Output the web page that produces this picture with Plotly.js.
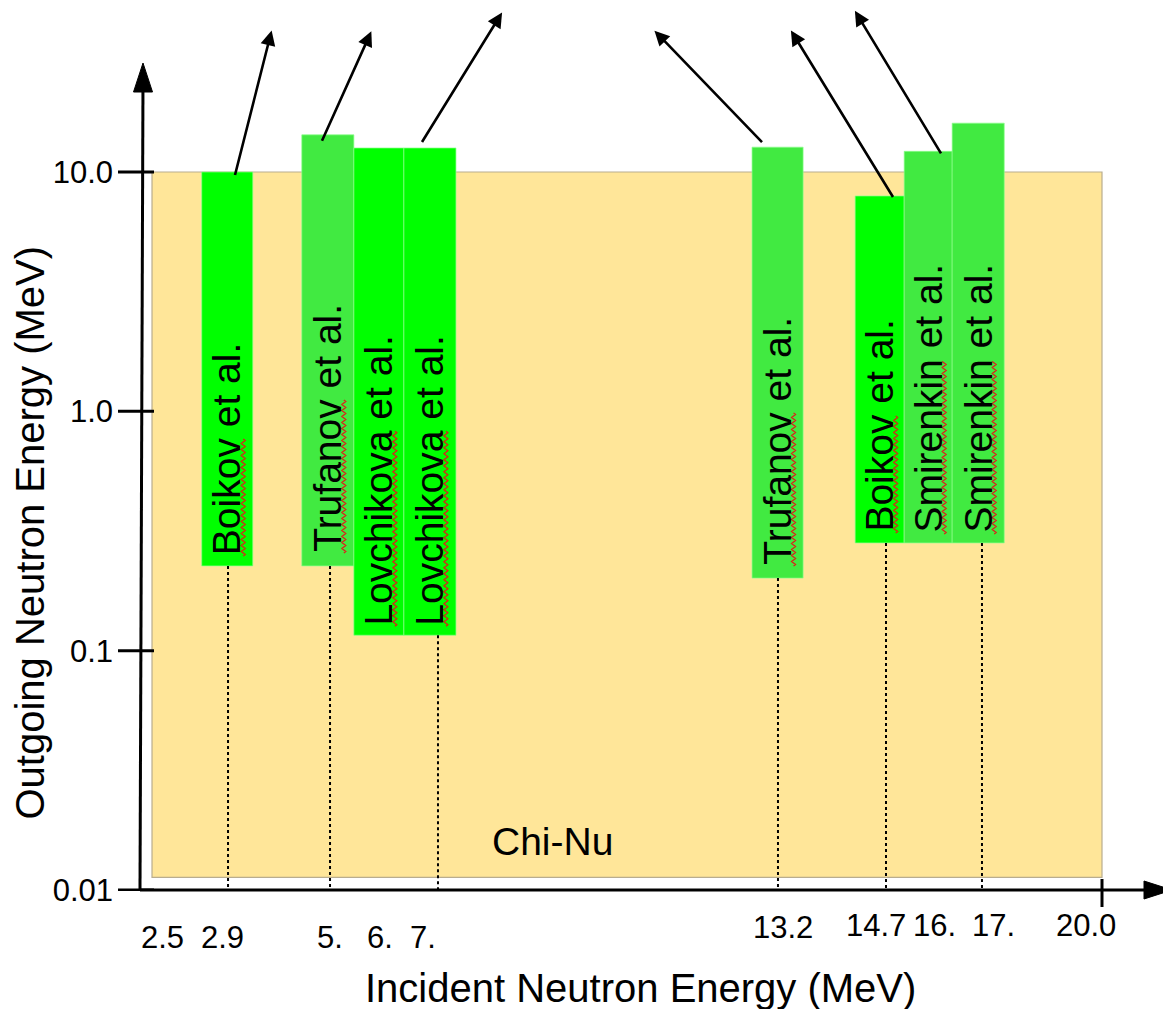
<!DOCTYPE html>
<html>
<head>
<meta charset="utf-8">
<script src="https://cdn.plot.ly/plotly-3.0.1.min.js"></script>
<style>html,body{margin:0;padding:0;background:#fff;} #chart{width:1163px;height:1009px;}</style>
</head>
<body>
<div id="chart"></div>
<script>
// ---------------- data ----------------
const incidentTickLabels = ['2.5', '2.9', '5.', '6.', '7.', '13.2', '14.7', '16.', '17.', '20.0'];
const outgoingTickValues = [0.01, 0.1, 1, 10];
const outgoingTickLabels = ['0.01', '0.1', '1.0', '10.0'];

const barAuthors  = ['Boikov', 'Trufanov', 'Lovchikova', 'Lovchikova', 'Trufanov', 'Boikov', 'Smirenkin', 'Smirenkin'];
const barIncident = ['2.9', '5.', '6.', '7.', '13.2', '14.7', '16.', '17.'];
const barOutLow   = [0.226, 0.226, 0.116, 0.116, 0.201, 0.282, 0.282, 0.282];
const barOutHigh  = [10.0, 14.3, 12.6, 12.6, 12.7, 7.94, 12.2, 16.0];

const chiNuName    = 'Chi-Nu';
const chiNuOutLow  = 0.0113;
const chiNuOutHigh = 10.0;

const xTitle = 'Incident Neutron Energy (MeV)';
const yTitle = 'Outgoing Neutron Energy (MeV)';

// ---------------- schematic layout (positions on the drawn, non-linear axis) ----------------
const tickLabelPos  = [0.41, 1.57, 3.69, 4.66, 5.50, 12.55, 14.38, 15.53, 16.67, 18.49];
const tickLabelDrop = [46, 46, 46, 46, 46, 36.5, 34.5, 34.5, 34.5, 34.5];
const barPos   = [1.67, 3.64, 4.64, 5.64, 12.45, 14.45, 15.40, 16.38];
const barWidth = [1.00, 1.02, 0.98, 1.02, 1.00, 0.96, 0.94, 1.02];
const barColor = ['#00ff00', '#41ea41', '#00ff00', '#00ff00', '#41ea41', '#00ff00', '#41ea41', '#41ea41'];
const labelPad = [9, 12, 8, 8, 11, 9, 8, 8];
const dropPos  = [1.685, 3.683, null, 5.798, 12.458, 14.574, null, 16.454];
const chiNuLeft = 0.196, chiNuRight = 18.805;          // right edge = 20.0 tick
const arrowBar   = [0, 1, 3, 4, 5, 6];
const arrowTailX = [1.822, 3.526, 5.485, 12.145, 14.711, 15.651];
const arrowTailShift = [-3, -6, 6, 5, -1, -2];
const arrowHeadDx = [37, 50, 81, -109, -103, -87];
const arrowHeadDy = [-146, -111, -131, -113, -168, -144];

const FONT = 'Liberation Sans, Arial, Helvetica, sans-serif';
const LABEL_SIZE = 39;
const ML = 142, PW = 1021, PH = 891;
const px = v => (v - ML) / PW;     // decoration helpers (figure px -> paper)
const py = v => (PH - v) / PH;

// approximate advance widths (em) for the spell-check squiggle under surnames
const ADV = {B:.667,o:.556,i:.222,k:.5,v:.5,T:.611,r:.333,u:.556,f:.278,a:.556,n:.556,L:.556,c:.5,h:.556,S:.667,m:.833,e:.556};
const wordWidth = w => w.split('').reduce((s, c) => s + (ADV[c] || .556), 0) * LABEL_SIZE;

// ---------------- traces ----------------
const chiNuTrace = {
  type: 'bar', x: [(chiNuLeft + chiNuRight) / 2], width: [chiNuRight - chiNuLeft],
  base: [chiNuOutLow], y: [chiNuOutHigh - chiNuOutLow],
  marker: {color: '#ffe699', line: {color: '#b9ad8f', width: 1.2}},
  hoverinfo: 'skip', name: chiNuName
};
const barTrace = {
  type: 'bar', x: barPos, width: barWidth,
  base: barOutLow, y: barOutHigh.map((h, i) => h - barOutLow[i]),
  marker: {color: barColor, line: {color: 'rgba(140,255,140,0.7)', width: 1}},
  text: barAuthors.map((a, i) => a + ' ' + barIncident[i]), textposition: 'none',
  hoverinfo: 'text', name: 'experiments'
};
const dx = [], dy = [];
dropPos.forEach((p, i) => { if (p !== null) { dx.push(p, p, null); dy.push(barOutLow[i], outgoingTickValues[0], null); } });
const dropTrace = {
  type: 'scatter', mode: 'lines', x: dx, y: dy,
  line: {color: '#000', width: 2, dash: 'dot'}, hoverinfo: 'skip', connectgaps: false
};

// ---------------- shapes (axes drawn as arrows) ----------------
const shapes = [];
shapes.push({type: 'line', xref: 'paper', yref: 'paper', x0: px(140), y0: py(890), x1: px(143), y1: py(80), line: {color: '#000', width: 3}});
shapes.push({type: 'path', xref: 'paper', yref: 'paper',
  path: `M${px(143)},${py(63)} L${px(133.5)},${py(92)} L${px(152.5)},${py(92)} Z`,
  fillcolor: '#000', line: {color: '#000', width: 1}});
shapes.push({type: 'line', xref: 'paper', yref: 'paper', x0: px(140), y0: py(890), x1: px(1150), y1: py(890), line: {color: '#000', width: 3}});
shapes.push({type: 'path', xref: 'paper', yref: 'paper',
  path: `M${px(1172)},${py(890)} L${px(1144)},${py(881)} L${px(1144)},${py(899)} Z`,
  fillcolor: '#000', line: {color: '#000', width: 1}});
outgoingTickValues.forEach(v => shapes.push({type: 'line', xref: 'paper', xsizemode: 'pixel', xanchor: 0, x0: -24, x1: 12,
  yref: 'y', y0: v, y1: v, line: {color: '#000', width: 3}}));
shapes.push({type: 'line', xref: 'x', x0: chiNuRight, x1: chiNuRight, yref: 'paper', y0: py(907), y1: py(879), line: {color: '#000', width: 3}});

// red squiggles (spell-check marks) under each surname, following the rotated baseline
function squiggle(xOff, start, len) {
  let p = `M${xOff},${start}`;
  const offs = [2, 0, -2, 0];
  let k = 0;
  for (let t = start + 1.5; t <= start + len; t += 1.5) { p += ` L${xOff + offs[k % 4]},${t.toFixed(1)}`; k++; }
  return p;
}
barAuthors.forEach((a, i) => shapes.push({
  type: 'path', xref: 'x', yref: 'y', xsizemode: 'pixel', ysizemode: 'pixel',
  xanchor: barPos[i], yanchor: barOutLow[i],
  path: squiggle(16, labelPad[i] + 1, wordWidth(a)),
  line: {color: '#e01a1a', width: 1.2}, fillcolor: 'rgba(0,0,0,0)'
}));

// ---------------- annotations ----------------
const annotations = [];
barAuthors.forEach((a, i) => annotations.push({
  xref: 'x', yref: 'y', x: barPos[i], y: Math.log10(barOutLow[i]),
  text: a + ' et al.', textangle: -90, showarrow: false,
  xanchor: 'center', yanchor: 'bottom', yshift: labelPad[i],
  font: {family: FONT, size: LABEL_SIZE, color: '#000'}
}));
arrowBar.forEach((b, k) => annotations.push({
  xref: 'x', yref: 'y', x: arrowTailX[k], y: Math.log10(barOutHigh[b]), yshift: arrowTailShift[k],
  text: '', showarrow: true, arrowside: 'start', ax: arrowHeadDx[k], ay: arrowHeadDy[k],
  startarrowhead: 2, startarrowsize: 1.15, arrowhead: 2, arrowsize: 1.15,
  arrowwidth: 2.6, arrowcolor: '#000', standoff: 0, startstandoff: 0
}));
incidentTickLabels.forEach((t, i) => annotations.push({
  xref: 'x', yref: 'paper', x: tickLabelPos[i], y: 0, yshift: -tickLabelDrop[i],
  text: t, showarrow: false, xanchor: 'center', yanchor: 'middle',
  font: {family: FONT, size: 31, color: '#000'}
}));
annotations.push({xref: 'paper', yref: 'paper', x: px(552.5), y: py(841.5), text: chiNuName, showarrow: false,
  xanchor: 'center', yanchor: 'middle', font: {family: FONT, size: 39, color: '#000'}});
annotations.push({xref: 'paper', yref: 'paper', x: px(640), y: py(988), text: xTitle, showarrow: false,
  xanchor: 'center', yanchor: 'middle', font: {family: FONT, size: 40, color: '#000'}});
annotations.push({xref: 'paper', yref: 'paper', x: px(29), y: py(532.5), text: yTitle, showarrow: false, textangle: -90,
  xanchor: 'center', yanchor: 'middle', font: {family: FONT, size: 40, color: '#000'}});

const layout = {
  width: 1163, height: 1009,
  margin: {l: ML, r: 1163 - ML - PW, t: 0, b: 1009 - PH, pad: 0},
  paper_bgcolor: '#ffffff', plot_bgcolor: 'rgba(0,0,0,0)',
  showlegend: false, barmode: 'overlay',
  font: {family: FONT, color: '#000'},
  xaxis: {range: [0, 20], showgrid: false, zeroline: false, showline: false, showticklabels: false, ticks: '', fixedrange: true},
  yaxis: {type: 'log', range: [-2.0042, 1.7187], showgrid: false, zeroline: false, showline: false, ticks: '',
    tickmode: 'array', tickvals: outgoingTickValues, ticktext: outgoingTickLabels,
    tickfont: {family: FONT, size: 31, color: '#000'}, ticklabelstandoff: 28, fixedrange: true},
  shapes: shapes, annotations: annotations
};

Plotly.newPlot('chart', [chiNuTrace, barTrace, dropTrace], layout, {displayModeBar: false, staticPlot: true});
</script>
</body>
</html>
